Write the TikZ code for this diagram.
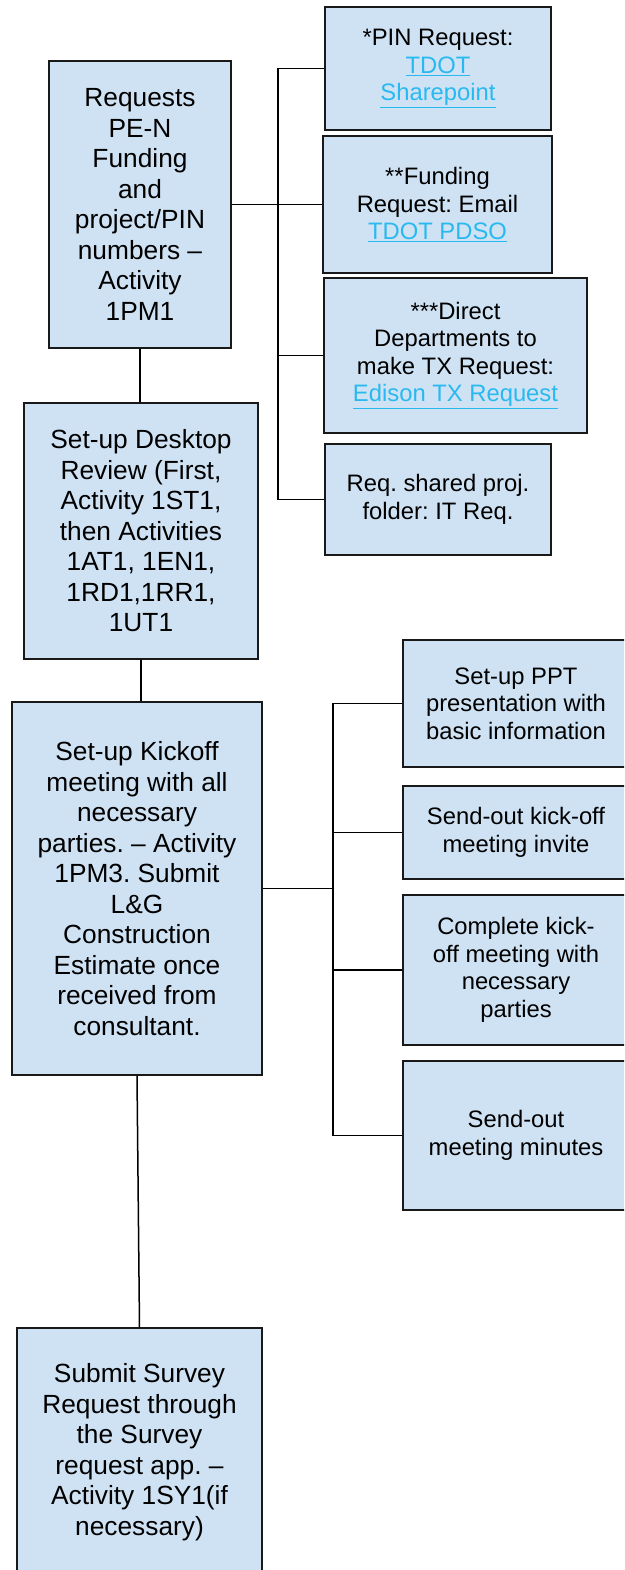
\documentclass[tikz,border=0pt]{standalone}
\usepackage{fontspec}
\setmainfont{Liberation Sans}
\frenchspacing
\definecolor{boxfill}{HTML}{CFE2F3}
\definecolor{linkc}{RGB}{40,185,240}
\newcommand{\lnk}[1]{\textcolor{linkc}{\underline{#1}}}
\tikzset{
  bigbox/.style={draw=black!90, fill=boxfill, line width=1.5pt, align=center, inner sep=0pt,
    font=\fontsize{26.3}{30.5}\selectfont},
  smallbox/.style={draw=black!90, fill=boxfill, line width=1.5pt, align=center, inner sep=0pt,
    font=\fontsize{23.8}{27.5}\selectfont},
  conn/.style={draw=black, line width=1.5pt}
}
\begin{document}
\begin{tikzpicture}[x=1pt,y=-1pt]
\useasboundingbox (0,0) rectangle (624,1570);
\clip (0,0) rectangle (624,1570);
\fill[white] (0,0) rectangle (624,1570);

% left column
\node[bigbox, minimum width=182pt, minimum height=287pt] (A) at (140,204.5)
  {Requests\\PE-N\\Funding\\and\\project/PIN\\numbers –\\Activity\\1PM1};
\node[bigbox, minimum width=234pt, minimum height=256pt] (B) at (141,531)
  {Set-up Desktop\\Review (First,\\Activity 1ST1,\\then Activities\\1AT1, 1EN1,\\1RD1,1RR1,\\1UT1};
\node[bigbox, minimum width=250pt, minimum height=373pt] (C) at (137,888.5)
  {Set-up Kickoff\\meeting with all\\necessary\\parties. – Activity\\1PM3. Submit\\L\&G\\Construction\\Estimate once\\received from\\consultant.};
\node[bigbox, minimum width=245pt, minimum height=248pt] (D) at (139.5,1452)
  {Submit Survey\\Request through\\the Survey\\request app. –\\Activity 1SY1(if\\necessary)};

% first group
\node[smallbox, minimum width=226pt, minimum height=123pt] (PIN) at (438,68.5)
  {*PIN Request:\\\lnk{TDOT}\\\lnk{Sharepoint}};
\node[smallbox, minimum width=229pt, minimum height=137pt] (FUND) at (437.5,204.5)
  {**Funding\\Request: Email\\\lnk{TDOT PDSO}};
\node[smallbox, minimum width=263pt, minimum height=155pt] (DIR) at (455.5,355.5)
  {***Direct\\Departments to\\make TX Request:\\\lnk{Edison TX Request}};
\node[smallbox, minimum width=226pt, minimum height=111pt] (REQ) at (438,499.5)
  {Req. shared proj.\\folder: IT Req.};

% second group
\node[smallbox, minimum width=226pt, minimum height=127pt] (PPT) at (516,703.5)
  {Set-up PPT\\presentation with\\basic information};
\node[smallbox, minimum width=226pt, minimum height=93pt] (INV) at (516,832.5)
  {Send-out kick-off\\meeting invite};
\node[smallbox, minimum width=226pt, minimum height=150pt] (CMP) at (516,970)
  {Complete kick-\\off meeting with\\necessary\\parties};
\node[smallbox, minimum width=226pt, minimum height=149pt] (MIN) at (516,1135.5)
  {Send-out\\meeting minutes};

% connectors
\coordinate (j1) at (278,204.5);
\coordinate (j2) at (333,888.5);
\draw[conn] (A.east) -- (j1);
\draw[conn] (PIN.west) -| (j1);
\draw[conn] (FUND.west) -- (j1);
\draw[conn] (DIR.west) -| (j1);
\draw[conn] (REQ.west) -| (j1);

\draw[conn] (C.east) -- (j2);
\draw[conn] (PPT.west) -| (j2);
\draw[conn] (INV.west) -| (j2);
\draw[conn] (CMP.west) -| (j2);
\draw[conn] (MIN.west) -| (j2);

\draw[conn] (A.south) -- (A.south |- B.north);
\draw[conn] (B.south) -- (B.south |- C.north);
\draw[conn] (C.south) -- (D.north);
\end{tikzpicture}
\end{document}
